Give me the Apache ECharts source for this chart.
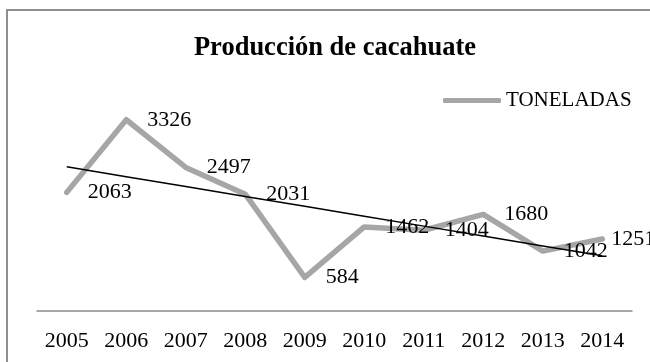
<!DOCTYPE html>
<html>
<head>
<meta charset="utf-8">
<script src="https://cdn.jsdelivr.net/npm/echarts@6/dist/echarts.min.js"></script>
<style>
  html, body { margin: 0; padding: 0; background: #ffffff; }
  #chart { width: 650px; height: 362px; }
</style>
</head>
<body>
<div id="chart"></div>
<script>
// Peanut production by year (tonnes)
const years = ['2005', '2006', '2007', '2008', '2009', '2010', '2011', '2012', '2013', '2014'];
const toneladas = [2063, 3326, 2497, 2031, 584, 1462, 1404, 1680, 1042, 1251];
const seriesName = 'TONELADAS';
const chartTitle = 'Producción de cacahuate';

// Least-squares linear trend over the category index
function linearTrend(values) {
  const n = values.length;
  let sx = 0, sy = 0, sxy = 0, sxx = 0;
  values.forEach((v, i) => { sx += i; sy += v; sxy += i * v; sxx += i * i; });
  const slope = (n * sxy - sx * sy) / (n * sxx - sx * sx);
  const icpt = (sy - slope * sx) / n;
  return values.map((_, i) => icpt + slope * i);
}
const trend = linearTrend(toneladas);

const serif = "'Liberation Serif', 'Times New Roman', serif";
const grey = '#a6a6a6';

const chart = echarts.init(document.getElementById('chart'), null, { renderer: 'canvas' });
chart.setOption({
  backgroundColor: '#ffffff',
  animation: false,
  graphic: [{
    type: 'rect',
    silent: true,
    shape: { x: 7, y: 10, width: 700, height: 420 },
    style: { fill: 'none', stroke: '#8f8f8f', lineWidth: 2 }
  }],
  title: {
    text: chartTitle,
    left: 330,
    textAlign: 'center',
    top: 30,
    textStyle: { fontFamily: serif, fontWeight: 'bold', fontSize: 26.5, color: '#000' }
  },
  legend: {
    data: [seriesName],
    left: 438,
    top: 85,
    icon: 'roundRect',
    itemWidth: 58,
    itemHeight: 5,
    itemStyle: { color: grey },
    textStyle: { fontFamily: serif, fontSize: 21, color: '#000' }
  },
  grid: { left: 37, right: 18, top: 81, bottom: 51 },
  xAxis: {
    type: 'category',
    data: years,
    boundaryGap: true,
    axisLine: { lineStyle: { color: '#8c8c8c', width: 1.5 } },
    axisTick: { show: false },
    axisLabel: { fontFamily: serif, fontSize: 22, color: '#000', margin: 19 }
  },
  yAxis: {
    type: 'value',
    min: 0,
    max: 4000,
    show: false,
    splitLine: { show: false }
  },
  series: [
    {
      name: seriesName,
      type: 'line',
      data: toneladas.map((v, i) => i === toneladas.length - 1
        ? { value: v, label: { distance: 9 } }
        : v),
      symbol: 'circle',
      symbolSize: 0,
      showSymbol: true,
      lineStyle: { color: grey, width: 5.5, cap: 'round', join: 'round' },
      itemStyle: { color: grey },
      label: {
        show: true,
        position: 'right',
        distance: 21,
        fontFamily: serif,
        fontSize: 22,
        color: '#000'
      },
      z: 2
    },
    {
      name: 'Lineal',
      type: 'line',
      data: trend,
      symbol: 'none',
      lineStyle: { color: '#000', width: 1.5 },
      silent: true,
      z: 3
    }
  ]
});
</script>
</body>
</html>
